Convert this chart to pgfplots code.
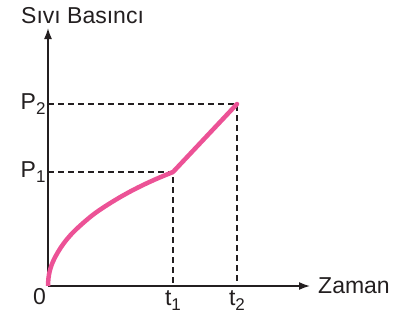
\documentclass[border=0pt]{standalone}
\usepackage{fontspec}
\setmainfont{Liberation Sans}
\usepackage{pgfplots}
\pgfplotsset{compat=1.18}
\usetikzlibrary{arrows.meta}
\definecolor{curvepink}{RGB}{236,82,150}
\definecolor{axisdark}{RGB}{35,31,32}
\newcommand{\sub}[1]{\raisebox{-0.45ex}{\fontsize{17}{17}\selectfont #1}}

\begin{document}
\begin{tikzpicture}
\begin{axis}[
    x=1pt, y=1pt,
    xmin=0, xmax=262,
    ymin=0, ymax=258,
    axis lines=left,
    axis line style={axisdark, line width=1.6pt, -{Latex[length=11pt,width=8pt]}},
    xtick={125,189},
    xticklabels={t\sub{1}, t\sub{2}},
    ytick={114,182},
    yticklabels={P\sub{1}, P\sub{2}},
    major tick length=0pt,
    tick label style={font=\fontsize{23}{27}\selectfont, text=axisdark},
    xticklabel style={yshift=-1pt},
    yticklabel style={xshift=1pt},
    clip=false,
]
% reference lines
\addplot[axisdark, line width=1.1pt, dash pattern=on 6pt off 4pt] coordinates {(0,182) (189,182) (189,0)};
\addplot[axisdark, line width=1.1pt, dash pattern=on 6pt off 4pt] coordinates {(0,114) (125,114) (125,0)};
% pressure curve
\addplot[curvepink, line width=4.5pt, line join=round, smooth, tension=0.6] coordinates {
    (0,0) (0.5,8) (2,16) (5,24.5) (10,34) (16,43) (24,52.5) (34,62)
    (46,72) (60,81.5) (75,90.5) (90,98.5) (107,106.5) (125,114)
};
\addplot[curvepink, line width=4.5pt, line cap=round] coordinates {(125,114) (189,182)};
\node[anchor=north east, font=\fontsize{23}{27}\selectfont, text=axisdark, inner sep=2pt] at (axis cs:0,0) {0};
\node[anchor=west, font=\fontsize{23}{27}\selectfont, text=axisdark, inner sep=0pt] at (axis cs:270,0) {Zaman};
\node[anchor=west, font=\fontsize{23}{27}\selectfont, text=axisdark, inner sep=0pt] at (axis cs:-27,270) {Sıvı Basıncı};
\path (axis cs:-48,-36) rectangle (axis cs:355,286);
\end{axis}
\end{tikzpicture}
\end{document}
